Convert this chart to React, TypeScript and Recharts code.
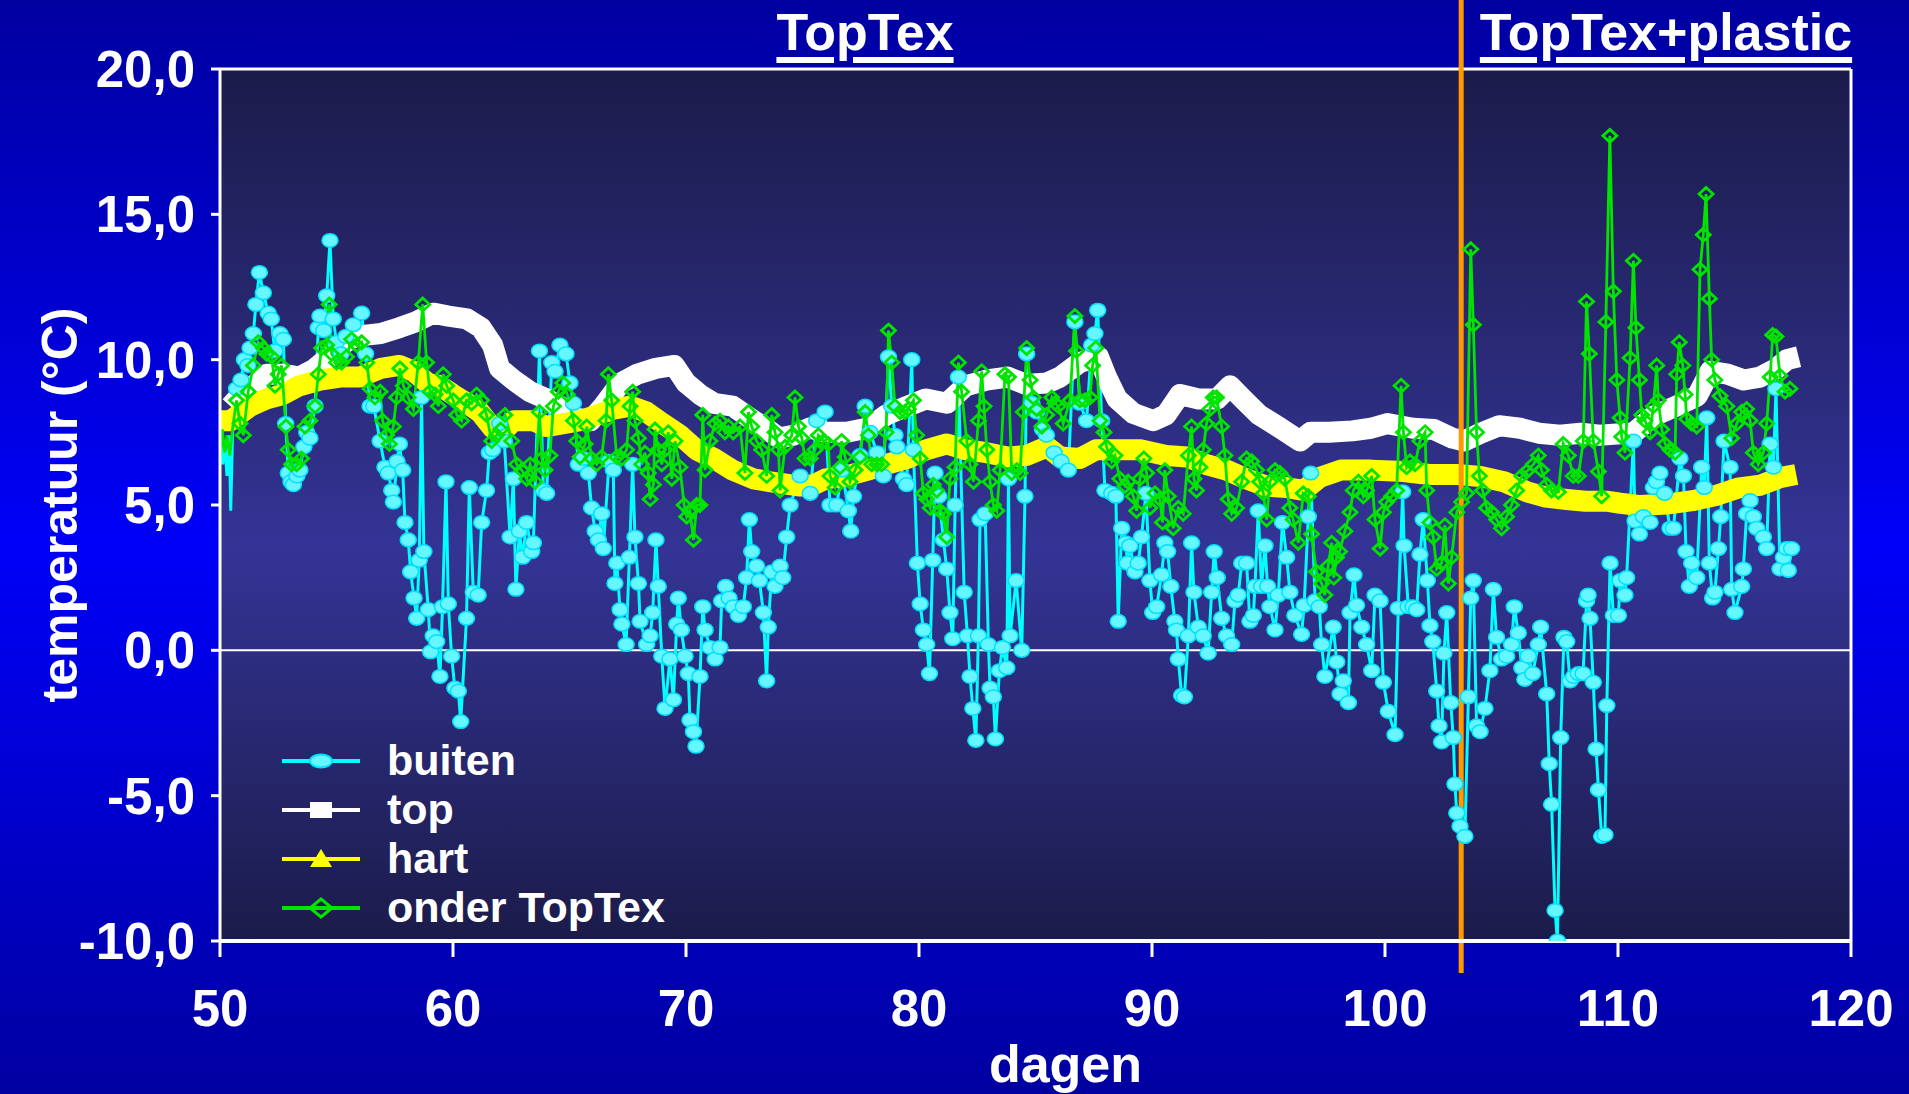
import React from "react";
import {
  LineChart,
  Line,
  XAxis,
  YAxis,
  CartesianGrid,
  ReferenceLine,
  Legend,
} from "recharts";

// tick labels
const xTicks = [50, 60, 70, 80, 90, 100, 110, 120];
const yTicks = [-10, -5, 0, 5, 10, 15, 20];

// dag waar het plastic erop ging
const plasticDay = 103.27;

// [dag, temperatuur]
const buiten: [number, number][] = [
  [50.0, 7.6], [50.12, 6.4], [50.2, 7.2], [50.3, 6.0], [50.4, 7.4], [50.46, 4.8], [50.55, 7.8],
  [50.71, 9.0], [50.9, 9.3], [51.05, 10.0], [51.2, 9.8], [51.29, 10.4], [51.43, 10.9], [51.54, 11.9],
  [51.69, 13.0], [51.86, 12.3], [52.07, 11.6], [52.2, 11.4], [52.35, 10.3], [52.57, 10.9], [52.72, 10.7],
  [52.82, 7.8], [52.93, 6.1], [53.05, 5.8], [53.15, 5.7], [53.3, 6.0], [53.43, 6.2], [53.6, 7.0],
  [53.72, 7.5], [53.86, 7.3], [54.08, 8.4], [54.22, 11.1], [54.29, 11.5], [54.45, 11.0], [54.58, 12.2],
  [54.72, 14.1], [54.86, 11.4], [55.0, 10.6], [55.2, 10.2], [55.4, 10.8], [55.72, 11.2], [56.08, 11.6],
  [56.25, 10.2], [56.44, 8.4], [56.6, 8.4], [56.87, 7.2], [57.08, 6.3], [57.22, 6.1], [57.37, 5.5],
  [57.44, 5.1], [57.6, 6.5], [57.7, 7.1], [57.84, 6.2], [57.94, 4.4], [58.08, 3.8], [58.18, 2.7],
  [58.33, 1.8], [58.44, 1.1], [58.55, 3.1], [58.65, 8.7], [58.75, 3.4], [58.94, 1.4], [59.04, -0.05],
  [59.15, 0.5], [59.3, 0.3], [59.44, -0.9], [59.55, 1.5], [59.7, 5.8], [59.8, 1.6], [59.94, -0.2],
  [60.08, -1.3], [60.23, -1.4], [60.33, -2.45], [60.58, 1.1], [60.7, 5.6], [60.87, 2.0], [61.08, 1.9],
  [61.23, 4.4], [61.44, 5.5], [61.56, 6.8], [61.7, 6.9], [62.0, 7.8], [62.2, 7.2], [62.45, 3.9],
  [62.59, 5.9], [62.7, 2.1], [62.85, 4.1], [62.99, 3.2], [63.16, 4.4], [63.38, 3.4], [63.45, 3.7],
  [63.71, 10.3], [63.88, 5.5], [64.02, 5.4], [64.24, 9.9], [64.38, 9.6], [64.59, 10.5], [64.85, 10.2],
  [65.02, 9.2], [65.17, 8.5], [65.38, 6.4], [65.6, 6.6], [65.81, 6.1], [65.95, 4.9], [66.1, 4.1],
  [66.24, 3.8], [66.38, 4.7], [66.45, 3.5], [66.7, 6.5], [66.88, 6.2], [66.95, 2.3], [67.03, 3.0],
  [67.17, 1.4], [67.25, 0.9], [67.43, 0.2], [67.57, 3.2], [67.71, 6.4], [67.81, 3.9], [67.96, 2.3],
  [68.03, 1.0], [68.31, 0.2], [68.46, 0.5], [68.57, 1.3], [68.71, 3.8], [68.81, 2.2], [68.96, -0.2],
  [69.1, -2.0], [69.31, -0.3], [69.46, -1.7], [69.6, 0.9], [69.67, 1.8], [69.8, 0.7], [69.96, -0.2],
  [70.1, -0.8], [70.17, -2.4], [70.32, -2.8], [70.43, -3.3], [70.6, -0.9], [70.72, 1.5], [70.82, 0.7],
  [71.03, 0.1], [71.25, -0.3], [71.46, 0.1], [71.53, 1.7], [71.7, 2.2], [71.85, 1.8], [72.03, 1.5],
  [72.25, 1.2], [72.46, 1.5], [72.6, 2.5], [72.72, 4.5], [72.82, 3.4], [73.03, 2.9], [73.15, 2.4],
  [73.32, 1.3], [73.46, -1.05], [73.53, 0.8], [73.68, 2.7], [73.82, 2.2], [74.04, 2.9], [74.15, 2.5],
  [74.32, 3.9], [74.47, 5.0], [74.9, 6.0], [75.33, 5.4], [75.61, 7.9], [75.97, 8.2], [76.18, 5.0],
  [76.47, 5.0], [76.7, 6.2], [76.97, 4.8], [77.07, 4.1], [77.19, 5.3], [77.47, 6.7], [77.69, 8.4],
  [77.9, 7.5], [78.2, 6.8], [78.47, 6.0], [78.69, 10.1], [78.83, 8.4], [78.97, 7.4], [79.05, 7.0],
  [79.33, 5.9], [79.47, 5.7], [79.69, 10.0], [79.76, 6.9], [79.93, 3.0], [80.05, 1.6], [80.19, 0.7],
  [80.33, 0.2], [80.45, -0.8], [80.59, 3.1], [80.69, 6.1], [80.85, 5.3], [81.05, 3.8], [81.19, 2.8],
  [81.33, 1.3], [81.45, 0.4], [81.55, 5.0], [81.69, 9.4], [81.94, 2.0], [82.08, 0.5], [82.19, -0.9],
  [82.31, -2.0], [82.44, -3.1], [82.55, 0.5], [82.62, 4.5], [82.84, 4.7], [82.98, 0.2], [83.05, -1.3],
  [83.19, -1.6], [83.28, -3.05], [83.45, -0.7], [83.58, 0.1], [83.77, -0.6], [83.84, 5.9], [83.91, 0.5],
  [84.17, 2.4], [84.41, 0.0], [84.55, 5.3], [84.62, 10.2], [84.85, 8.5], [85.05, 8.2], [85.3, 7.6],
  [85.47, 7.4], [85.8, 6.8], [86.1, 6.5], [86.41, 6.2], [86.69, 11.3], [86.9, 8.5], [87.19, 7.9],
  [87.41, 10.5], [87.55, 10.9], [87.67, 11.7], [87.84, 7.9], [87.98, 5.5], [88.27, 5.4], [88.45, 5.3],
  [88.55, 1.0], [88.7, 4.2], [88.88, 3.7], [88.94, 3.0], [89.05, 3.6], [89.27, 2.7], [89.41, 3.0],
  [89.55, 3.9], [89.74, 5.4], [89.91, 2.4], [90.03, 1.3], [90.2, 1.5], [90.41, 2.6], [90.55, 3.7],
  [90.67, 3.4], [90.81, 2.2], [90.98, 1.0], [91.05, 0.7], [91.13, -0.3], [91.27, -1.55], [91.39, -1.6],
  [91.56, 0.5], [91.7, 3.7], [91.8, 2.0], [91.99, 0.8], [92.2, 0.5], [92.41, -0.1], [92.56, 2.0],
  [92.67, 3.4], [92.8, 2.5], [92.99, 1.1], [93.2, 0.5], [93.42, 0.2], [93.56, 1.7], [93.7, 1.9],
  [93.85, 3.0], [94.06, 3.0], [94.2, 1.0], [94.35, 1.2], [94.42, 2.2], [94.56, 4.8], [94.7, 2.2],
  [94.85, 3.6], [94.96, 2.2], [95.06, 1.5], [95.28, 0.7], [95.42, 1.9], [95.6, 4.4], [95.78, 3.2],
  [95.92, 2.0], [96.13, 1.2], [96.42, 0.55], [96.53, 1.55], [96.71, 4.6], [96.81, 6.1], [97.0, 1.7],
  [97.18, 1.5], [97.28, 0.2], [97.42, -0.9], [97.78, 0.8], [97.93, -0.4], [98.07, -1.5], [98.21, -1.05],
  [98.43, -1.8], [98.5, 1.3], [98.67, 2.6], [98.78, 1.55], [99.0, 0.8], [99.21, 0.2], [99.43, -0.7],
  [99.57, 1.9], [99.79, 1.7], [99.93, -1.1], [100.14, -2.1], [100.43, -2.9], [100.57, 1.45], [100.76, 5.45],
  [100.82, 3.6], [101.0, 1.5], [101.2, 1.5], [101.36, 1.4], [101.5, 3.3], [101.64, 4.5], [101.82, 2.4],
  [101.93, 0.85], [102.05, 0.3], [102.22, -1.4], [102.32, -2.6], [102.43, -3.15], [102.53, -0.1], [102.65, 1.3],
  [102.82, -1.8], [102.93, -3.0], [103.0, -4.6], [103.08, -5.6], [103.22, -6.05], [103.43, -6.4], [103.58, -1.6],
  [103.68, 1.8], [103.79, 2.4], [103.93, -2.6], [104.08, -2.8], [104.29, -2.0], [104.5, -0.7], [104.65, 2.1],
  [104.79, 0.45], [105.0, -0.3], [105.22, -0.2], [105.43, 0.2], [105.55, 1.5], [105.72, 0.6], [105.87, -0.6],
  [106.0, -1.0], [106.15, -0.2], [106.34, -0.8], [106.58, 0.2], [106.68, 0.8], [106.94, -1.5], [107.05, -3.9],
  [107.15, -5.3], [107.3, -8.95], [107.4, -10.0], [107.54, -3.0], [107.68, 0.45], [107.8, 0.3], [107.94, -1.05],
  [108.1, -0.9], [108.3, -0.8], [108.5, -0.8], [108.65, 1.7], [108.72, 1.9], [108.8, 1.1], [108.94, -1.1],
  [109.06, -3.4], [109.16, -4.8], [109.3, -6.4], [109.44, -6.35], [109.52, -1.9], [109.66, 3.0], [109.8, 1.2],
  [110.02, 1.2], [110.09, 2.4], [110.3, 1.9], [110.37, 2.5], [110.66, 7.2], [110.73, 4.45], [110.92, 4.0],
  [111.09, 4.6], [111.38, 4.4], [111.52, 5.6], [111.65, 5.8], [111.8, 6.1], [112.0, 5.4], [112.23, 4.2],
  [112.38, 4.2], [112.66, 6.6], [112.81, 6.0], [112.92, 3.4], [113.06, 2.2], [113.16, 3.0], [113.38, 2.5],
  [113.59, 6.3], [113.7, 5.6], [113.81, 8.0], [113.92, 3.0], [114.06, 1.8], [114.16, 2.0], [114.31, 3.5],
  [114.41, 4.6], [114.55, 7.2], [114.81, 6.3], [114.88, 2.1], [115.02, 1.3], [115.31, 2.2], [115.38, 2.8],
  [115.52, 4.7], [115.67, 5.15], [115.81, 4.6], [115.95, 4.2], [116.24, 3.9], [116.38, 3.5], [116.53, 7.1],
  [116.67, 6.3], [116.78, 9.0], [116.95, 2.8], [117.1, 3.2], [117.24, 3.5], [117.31, 2.75], [117.45, 3.5],
];

const top: [number, number][] = [
  [50.45, 8.4], [50.9, 8.8], [51.6, 9.2], [52.0, 9.5], [52.7, 9.5], [53.4, 9.4], [54.0, 9.65],
  [54.7, 10.1], [55.2, 10.5], [55.8, 10.8], [56.9, 10.9], [57.7, 11.1], [58.4, 11.3], [59.15, 11.6],
  [59.8, 11.5], [60.6, 11.4], [61.2, 11.1], [61.7, 10.5], [62.0, 9.7], [62.6, 9.3], [63.3, 8.9],
  [64.0, 8.65], [64.6, 8.4], [65.2, 8.0], [65.9, 7.9], [66.45, 8.4], [67.2, 9.2], [67.9, 9.5],
  [68.7, 9.7], [69.5, 9.8], [70.0, 9.2], [70.6, 8.8], [71.2, 8.5], [72.0, 8.4], [72.9, 7.9],
  [73.5, 7.6], [74.0, 7.3], [74.6, 7.4], [75.3, 7.65], [76.0, 7.5], [76.9, 7.5], [77.8, 7.65],
  [78.6, 8.1], [79.5, 8.4], [80.3, 8.65], [81.2, 8.5], [82.0, 9.1], [82.9, 9.3], [83.8, 9.4],
  [84.6, 9.15], [85.5, 9.2], [86.05, 9.4], [86.9, 9.9], [87.7, 10.1], [88.05, 9.4], [88.5, 8.65],
  [89.2, 8.15], [90.05, 7.9], [90.6, 8.1], [91.2, 8.8], [92.0, 8.65], [92.8, 8.65], [93.35, 9.1],
  [93.9, 8.65], [94.6, 8.1], [95.5, 7.65], [96.35, 7.2], [96.8, 7.5], [97.6, 7.5], [98.6, 7.55],
  [99.4, 7.64], [100.1, 7.8], [101.2, 7.64], [102.1, 7.6], [102.9, 7.3], [103.4, 7.2], [104.1, 7.47],
  [104.9, 7.73], [105.8, 7.64], [106.6, 7.47], [107.5, 7.4], [108.4, 7.47], [109.2, 7.4], [110.1, 7.45],
  [110.7, 7.5], [111.5, 8.05], [112.5, 8.4], [113.4, 8.75], [113.95, 9.6], [114.7, 9.5], [115.4, 9.3],
  [116.1, 9.4], [116.8, 9.7], [117.25, 10.0], [117.75, 10.1],
];

const hart: [number, number][] = [
  [50.0, 7.9], [50.45, 7.9], [51.3, 8.4], [52.0, 8.65], [52.7, 8.8], [53.4, 9.1], [54.3, 9.3],
  [55.15, 9.4], [56.0, 9.4], [56.9, 9.7], [57.7, 9.8], [58.3, 9.6], [58.9, 9.2], [59.45, 9.1],
  [60.0, 8.8], [60.6, 8.5], [61.15, 8.2], [61.7, 7.65], [62.1, 7.5], [62.6, 7.9], [63.45, 7.9],
  [64.0, 7.7], [64.75, 7.8], [65.45, 7.9], [66.2, 8.1], [66.9, 8.3], [67.6, 8.4], [68.3, 8.2],
  [69.0, 7.8], [69.75, 7.4], [70.45, 6.9], [71.2, 6.6], [72.0, 6.2], [72.9, 5.9], [73.6, 5.8],
  [74.0, 5.75], [74.9, 5.65], [75.5, 5.7], [76.0, 5.9], [76.9, 6.0], [77.8, 6.2], [78.6, 6.4],
  [79.5, 6.6], [80.3, 6.9], [81.2, 7.1], [82.0, 6.9], [82.9, 6.8], [83.8, 6.65], [84.6, 6.7],
  [85.2, 6.9], [85.5, 7.0], [86.05, 6.65], [86.9, 6.6], [87.6, 6.9], [88.3, 6.9], [89.5, 6.9],
  [90.6, 6.7], [91.5, 6.65], [92.3, 6.4], [93.2, 6.2], [94.05, 5.9], [94.9, 5.65], [95.8, 5.6],
  [96.5, 5.5], [97.2, 5.95], [98.1, 6.2], [99.4, 6.2], [100.8, 6.15], [101.9, 6.05], [103.1, 6.05],
  [104.1, 5.98], [105.1, 5.8], [106.1, 5.45], [106.9, 5.27], [107.8, 5.19], [108.6, 5.13], [109.5, 5.13],
  [110.1, 5.06], [110.95, 4.98], [112.1, 5.03], [113.2, 5.15], [114.2, 5.33], [115.2, 5.59], [116.1, 5.68],
  [116.95, 5.94], [117.65, 6.05],
];

const onder: [number, number][] = [
  [50.0, 6.6], [50.1, 7.6], [50.2, 6.8], [50.3, 7.4], [50.42, 6.7], [50.55, 7.7],
  [50.71, 8.6], [50.86, 7.8], [51.0, 7.4], [51.21, 8.9], [51.43, 9.8], [51.64, 10.6], [51.86, 10.4],
  [52.0, 10.2], [52.22, 10.1], [52.36, 9.1], [52.5, 9.5], [52.64, 9.8], [52.83, 7.7], [52.93, 6.9],
  [53.07, 6.4], [53.29, 6.4], [53.5, 6.6], [53.65, 7.7], [53.86, 7.9], [54.08, 8.4], [54.22, 9.5],
  [54.36, 10.4], [54.58, 10.5], [54.69, 11.9], [54.79, 10.2], [55.0, 9.9], [55.22, 9.9], [55.43, 10.1],
  [55.65, 10.7], [55.86, 10.5], [56.08, 10.6], [56.3, 9.9], [56.44, 9.0], [56.65, 8.7], [56.87, 8.9],
  [56.98, 7.9], [57.15, 7.4], [57.27, 7.1], [57.44, 7.7], [57.58, 8.7], [57.72, 9.7], [57.87, 9.1],
  [58.08, 8.7], [58.3, 8.3], [58.51, 9.9], [58.7, 11.9], [58.87, 9.9], [59.01, 8.9], [59.23, 8.8],
  [59.37, 8.4], [59.58, 9.5], [59.73, 9.1], [60.01, 8.6], [60.16, 8.1], [60.37, 7.9], [60.58, 8.6],
  [60.8, 8.5], [61.01, 8.8], [61.23, 8.6], [61.44, 8.1], [61.66, 7.2], [61.87, 7.4], [62.05, 7.6],
  [62.23, 8.1], [62.52, 7.2], [62.73, 6.4], [62.95, 6.2], [63.16, 5.9], [63.31, 6.4], [63.52, 5.8],
  [63.71, 8.2], [63.81, 6.6], [63.95, 6.2], [64.16, 6.7], [64.31, 8.4], [64.52, 8.9], [64.71, 9.2],
  [64.91, 8.8], [65.17, 7.9], [65.31, 7.2], [65.45, 6.65], [65.67, 7.1], [65.74, 7.7], [65.95, 6.6],
  [66.17, 6.4], [66.38, 6.65], [66.57, 7.9], [66.67, 9.5], [66.81, 8.6], [67.03, 6.65], [67.24, 6.6],
  [67.45, 6.9], [67.6, 8.4], [67.71, 8.9], [67.81, 7.9], [67.96, 7.3], [68.1, 6.4], [68.24, 6.8],
  [68.38, 6.1], [68.46, 5.2], [68.6, 5.7], [68.67, 7.6], [68.81, 6.9], [68.96, 6.4], [69.1, 6.9],
  [69.24, 7.5], [69.39, 5.9], [69.53, 7.2], [69.74, 6.3], [69.92, 5.0], [70.03, 4.6], [70.17, 4.8],
  [70.32, 3.8], [70.46, 5.0], [70.6, 5.0], [70.72, 8.1], [70.82, 6.2], [71.03, 7.2], [71.25, 7.8],
  [71.46, 7.9], [71.67, 7.5], [71.82, 7.7], [72.03, 7.5], [72.32, 7.7], [72.53, 6.1], [72.68, 8.2],
  [72.82, 7.7], [73.03, 7.2], [73.25, 6.9], [73.46, 6.0], [73.68, 8.1], [73.82, 7.5], [73.97, 6.9],
  [74.04, 5.5], [74.25, 7.0], [74.54, 7.4], [74.68, 8.7], [74.83, 7.7], [74.97, 7.3], [75.11, 6.6],
  [75.33, 6.6], [75.54, 6.9], [75.68, 7.4], [75.9, 7.2], [76.11, 7.1], [76.18, 6.0], [76.4, 5.6],
  [76.61, 6.3], [76.68, 7.2], [76.83, 6.65], [77.04, 5.8], [77.26, 6.2], [77.47, 6.65], [77.69, 8.2],
  [77.83, 7.4], [77.97, 6.4], [78.19, 6.4], [78.4, 6.4], [78.59, 7.5], [78.69, 11.0], [78.83, 9.9],
  [78.97, 8.4], [79.19, 8.2], [79.4, 8.2], [79.54, 8.3], [79.76, 8.6], [79.9, 7.4], [80.05, 6.6],
  [80.19, 5.4], [80.33, 5.2], [80.48, 4.9], [80.62, 5.7], [80.76, 5.5], [80.9, 4.8], [81.05, 4.7],
  [81.19, 3.9], [81.33, 5.9], [81.55, 6.3], [81.69, 9.9], [81.83, 8.9], [82.05, 7.2], [82.19, 6.4],
  [82.34, 5.8], [82.55, 7.9], [82.69, 9.6], [82.79, 8.4], [82.91, 6.9], [83.05, 5.8], [83.19, 5.0],
  [83.34, 4.8], [83.48, 6.2], [83.69, 9.5], [83.84, 9.4], [83.98, 6.1], [84.2, 6.2], [84.34, 6.1],
  [84.48, 8.2], [84.62, 10.4], [84.77, 9.3], [84.91, 8.7], [85.05, 8.3], [85.27, 7.7], [85.48, 8.1],
  [85.7, 8.7], [85.84, 8.5], [85.98, 8.4], [86.19, 7.8], [86.48, 8.6], [86.69, 11.5], [86.76, 10.3],
  [86.91, 8.6], [87.12, 8.6], [87.34, 8.7], [87.45, 9.8], [87.59, 10.4], [87.77, 7.9], [87.94, 7.5],
  [88.05, 7.0], [88.27, 6.5], [88.41, 6.7], [88.62, 5.9], [88.84, 5.65], [88.98, 5.8], [89.2, 5.3],
  [89.34, 4.8], [89.48, 5.9], [89.65, 6.6], [89.77, 6.1], [89.91, 4.9], [90.13, 5.4], [90.34, 5.2],
  [90.45, 4.4], [90.55, 6.2], [90.7, 5.3], [90.91, 4.2], [91.13, 4.9], [91.34, 4.7], [91.56, 6.7],
  [91.7, 7.7], [91.8, 5.9], [91.91, 5.5], [92.06, 6.3], [92.2, 6.9], [92.34, 7.8], [92.49, 8.3],
  [92.63, 8.7], [92.77, 8.7], [92.99, 7.7], [93.13, 6.7], [93.27, 5.2], [93.42, 4.7], [93.63, 4.9],
  [93.85, 5.8], [94.06, 6.6], [94.28, 6.5], [94.49, 6.2], [94.63, 5.8], [94.78, 5.4], [94.92, 4.5],
  [95.06, 5.8], [95.28, 6.2], [95.49, 6.1], [95.7, 5.9], [95.92, 4.9], [96.06, 4.5], [96.28, 3.7],
  [96.49, 5.4], [96.71, 5.3], [96.85, 4.0], [97.06, 2.7], [97.28, 2.3], [97.42, 1.9], [97.56, 2.9],
  [97.71, 3.7], [97.8, 2.5], [97.92, 3.2], [98.05, 3.4], [98.28, 4.1], [98.5, 4.75], [98.64, 5.5],
  [98.86, 5.8], [99.07, 5.3], [99.21, 5.5], [99.43, 6.0], [99.57, 4.5], [99.79, 3.5], [99.93, 4.75],
  [100.07, 5.1], [100.29, 5.3], [100.5, 5.5], [100.69, 9.1], [100.79, 7.5], [100.93, 6.3], [101.07, 6.5],
  [101.29, 6.4], [101.5, 7.2], [101.72, 7.5], [101.79, 5.5], [101.93, 4.4], [102.07, 3.9], [102.22, 2.8],
  [102.43, 3.0], [102.57, 4.3], [102.72, 2.3], [102.86, 3.2], [103.08, 4.75], [103.29, 5.1], [103.5, 5.4],
  [103.68, 13.8], [103.79, 11.2], [103.93, 7.5], [104.05, 6.0], [104.19, 5.5], [104.36, 4.9], [104.58, 4.75],
  [104.79, 4.5], [105.0, 4.2], [105.22, 4.6], [105.43, 5.0], [105.65, 5.5], [105.87, 6.0], [106.08, 6.15],
  [106.37, 6.4], [106.58, 6.7], [106.72, 6.2], [106.94, 5.7], [107.15, 5.5], [107.44, 5.45], [107.65, 7.1],
  [107.87, 6.7], [108.08, 6.0], [108.3, 6.0], [108.51, 7.2], [108.65, 12.0], [108.77, 10.2], [108.94, 7.2],
  [109.16, 6.15], [109.3, 5.3], [109.48, 11.3], [109.65, 17.7], [109.8, 12.35], [109.95, 9.3], [110.09, 8.0],
  [110.16, 7.35], [110.3, 6.8], [110.52, 10.06], [110.66, 13.4], [110.77, 11.1], [110.92, 9.3], [111.02, 8.1],
  [111.16, 7.9], [111.38, 7.5], [111.52, 8.4], [111.66, 9.8], [111.73, 8.6], [111.88, 7.6], [112.02, 7.1],
  [112.23, 6.9], [112.45, 6.8], [112.52, 9.5], [112.63, 10.6], [112.78, 9.8], [112.88, 8.8], [112.95, 7.96],
  [113.16, 7.8], [113.38, 7.7], [113.52, 13.1], [113.66, 14.3], [113.78, 15.7], [113.92, 12.1], [114.02, 10.0],
  [114.16, 9.3], [114.38, 8.75], [114.67, 8.4], [114.88, 7.3], [115.1, 7.8], [115.31, 8.2], [115.52, 8.3],
  [115.67, 7.9], [115.81, 6.8], [116.02, 6.4], [116.24, 6.8], [116.38, 7.8], [116.53, 9.4], [116.64, 10.85],
  [116.78, 10.8], [116.95, 9.45], [117.17, 8.9], [117.38, 9.0],
];

const toPoints = (rows: [number, number][]) => rows.map(([day, t]) => ({ day, t }));

const FONT = "'Liberation Sans', Arial, sans-serif";
const firstMarkerDay = 50.6;
const GREEN = "#00E400";

const fmt = (v: number) => v.toFixed(1).replace(".", ",");

function BuitenDot(p: any) {
  if (p.cx == null || p.payload.day < firstMarkerDay) return <g key={`b${p.index}`} />;
  return (
    <ellipse
      key={`b${p.index}`}
      cx={p.cx}
      cy={p.cy}
      rx={8}
      ry={6.8}
      fill="#66F6FF"
      stroke="#00E0FF"
      strokeWidth={1.5}
    />
  );
}

function OnderDot(p: any) {
  if (p.cx == null || p.payload.day < firstMarkerDay) return <g key={`o${p.index}`} />;
  const { cx, cy } = p;
  return (
    <path
      key={`o${p.index}`}
      d={`M${cx},${cy - 6.5} L${cx + 7},${cy} L${cx},${cy + 6.5} L${cx - 7},${cy} Z`}
      fill="none"
      stroke={GREEN}
      strokeWidth={2.8}
    />
  );
}

const legendItems = [
  { name: "buiten", color: "#00FFFF" },
  { name: "top", color: "#FFFFFF" },
  { name: "hart", color: "#FFFF00" },
  { name: "onder TopTex", color: GREEN },
];

function LegendIcon({ idx, color }: { idx: number; color: string }) {
  return (
    <svg width={80} height={30} style={{ display: "block" }}>
      <line x1={1} y1={15} x2={79} y2={15} stroke={color} strokeWidth={4} />
      {idx === 0 && (
        <ellipse cx={40} cy={15} rx={11} ry={6.5} fill="#66F6FF" stroke="#00E0FF" strokeWidth={2} />
      )}
      {idx === 1 && <rect x={29} y={7} width={22} height={16} fill="#FFFFFF" />}
      {idx === 2 && <path d="M40,5 L51,23 L29,23 Z" fill="#FFFF00" />}
      {idx === 3 && (
        <path d="M40,6 L51,15 L40,24 L29,15 Z" fill="none" stroke={color} strokeWidth={3} />
      )}
    </svg>
  );
}

function renderLegend() {
  return (
    <div style={{ fontFamily: FONT }}>
      {legendItems.map((it, i) => (
        <div key={it.name} style={{ display: "flex", alignItems: "center", height: 49 }}>
          <LegendIcon idx={i} color={it.color} />
          <span
            style={{
              marginLeft: 26,
              color: "#fff",
              fontSize: 43,
              fontWeight: 700,
              lineHeight: "49px",
              whiteSpace: "nowrap",
            }}
          >
            {it.name}
          </span>
        </div>
      ))}
    </div>
  );
}

const titleStyle: React.CSSProperties = {
  position: "absolute",
  top: 6,
  transform: "translateX(-50%)",
  color: "#fff",
  fontSize: 52,
  fontWeight: 700,
  lineHeight: "52px",
  whiteSpace: "nowrap",
  textDecoration: "underline",
  textDecorationThickness: "6px",
  textUnderlineOffset: "7px",
};

export default function App() {
  const tickStyle = { fill: "#fff", fontSize: 51, fontWeight: 700, fontFamily: FONT };
  return (
    <div
      style={{
        position: "fixed",
        left: 0,
        top: 0,
        width: 1909,
        height: 1094,
        overflow: "hidden",
        fontFamily: FONT,
        background: "linear-gradient(180deg, #0000A0 0%, #0000F8 50%, #0000A0 100%)",
      }}
    >
      <LineChart width={1909} height={1094} margin={{ top: 69, right: 58, bottom: 0, left: 0 }}>
        <defs>
          <linearGradient id="plotBg" x1="0" y1="0" x2="0" y2="1">
            <stop offset="0%" stopColor="#1B1B4A" />
            <stop offset="55%" stopColor="#343496" />
            <stop offset="100%" stopColor="#1B1B4A" />
          </linearGradient>
        </defs>
        <CartesianGrid horizontal={false} vertical={false} fill="url(#plotBg)" />
        <XAxis
          type="number"
          dataKey="day"
          domain={[50, 120]}
          ticks={xTicks}
          allowDataOverflow
          height={153}
          axisLine={{ stroke: "#fff", strokeWidth: 4 }}
          tickLine={{ stroke: "#fff", strokeWidth: 3 }}
          tickSize={16}
          tickMargin={33}
          tick={tickStyle}
          label={{
            value: "dagen",
            position: "insideBottom",
            offset: 12,
            dx: 30,
            fill: "#fff",
            fontSize: 52,
            fontWeight: 700,
            fontFamily: FONT,
          }}
        />
        <YAxis
          type="number"
          domain={[-10, 20]}
          ticks={yTicks}
          allowDataOverflow
          width={220}
          axisLine={{ stroke: "#fff", strokeWidth: 3 }}
          tickLine={{ stroke: "#fff", strokeWidth: 3 }}
          tickSize={9}
          tickMargin={16}
          tickFormatter={fmt}
          tick={tickStyle}
          label={{
            value: "temperatuur (°C)",
            angle: -90,
            position: "insideLeft",
            offset: 51,
            dx: 8,
            textAnchor: "middle",
            fill: "#fff",
            fontSize: 50,
            fontWeight: 700,
            fontFamily: FONT,
          }}
        />
        <ReferenceLine y={0} stroke="#fff" strokeWidth={2} />
        <ReferenceLine y={20} stroke="#fff" strokeWidth={3} />
        <ReferenceLine x={120} stroke="#fff" strokeWidth={3} />
        <Line
          data={toPoints(buiten)}
          dataKey="t"
          name="buiten"
          type="linear"
          stroke="#00FFFF"
          strokeWidth={3}
          dot={BuitenDot}
          activeDot={false}
          isAnimationActive={false}
        />
        <Line
          data={toPoints(top)}
          dataKey="t"
          name="top"
          type="linear"
          stroke="#FFFFFF"
          strokeWidth={21}
          strokeLinejoin="round"
          dot={false}
          activeDot={false}
          isAnimationActive={false}
        />
        <Line
          data={toPoints(hart)}
          dataKey="t"
          name="hart"
          type="linear"
          stroke="#FFFF00"
          strokeWidth={21}
          strokeLinejoin="round"
          dot={false}
          activeDot={false}
          isAnimationActive={false}
        />
        <Line
          data={toPoints(onder)}
          dataKey="t"
          name="onder TopTex"
          type="linear"
          stroke={GREEN}
          strokeWidth={2.8}
          dot={OnderDot}
          activeDot={false}
          isAnimationActive={false}
        />
        <ReferenceLine
          segment={[
            { x: plasticDay, y: -11.1 },
            { x: plasticDay, y: 22.4 },
          ]}
          stroke="#FF9900"
          strokeWidth={5}
          ifOverflow="visible"
        />
        <Legend
          layout="vertical"
          align="center"
          verticalAlign="middle"
          content={renderLegend}
          wrapperStyle={{ left: 281, top: 736, width: 420, height: 200 }}
        />
      </LineChart>
      <div style={{ ...titleStyle, left: 865 }}>TopTex</div>
      <div style={{ ...titleStyle, left: 1666 }}>TopTex+plastic</div>
    </div>
  );
}
